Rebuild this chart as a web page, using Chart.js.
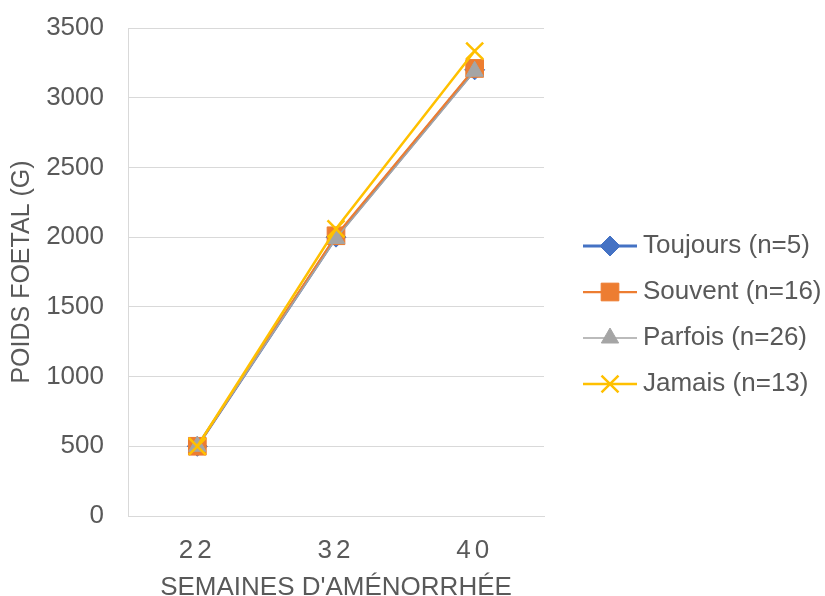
<!DOCTYPE html>
<html><head><meta charset="utf-8">
<script src="https://cdn.jsdelivr.net/npm/chart.js@4.4.1/dist/chart.umd.min.js"></script>
<style>html,body{margin:0;padding:0;background:#fff}#wrap{width:825px;height:596px}</style>
</head><body>
<div id="wrap"><canvas id="c" width="825" height="596"></canvas></div>
<script>
const categories = ['22', '32', '40'];
const seriesLabels = ['Toujours (n=5)', 'Souvent (n=16)', 'Parfois (n=26)', 'Jamais (n=13)'];
const toujours = [500, 2000, 3200];
const souvent = [500, 2010, 3210];
const parfois = [500, 1990, 3190];
const jamais = [500, 2060, 3335];
const yMin = 0, yMax = 3500, yStep = 500;
const xTitle = "SEMAINES D'AMÉNORRHÉE";
const yTitle = 'POIDS FOETAL (G)';

const FONT = '"Liberation Sans", Arial, sans-serif';
const TXT = '#595959';
const GRID = '#d9d9d9';

class SpacedCategoryScale extends Chart.CategoryScale {
  drawLabels(area) {
    const ctx = this.ctx;
    ctx.save();
    ctx.letterSpacing = '4px';
    super.drawLabels(area);
    ctx.restore();
  }
}
SpacedCategoryScale.id = 'spacedCategory';
SpacedCategoryScale.defaults = Chart.CategoryScale.defaults;
Chart.register(SpacedCategoryScale);

const sideLegend = {
  id: 'sideLegend',
  afterDraw(chart) {
    const ctx = chart.ctx;
    const x0 = 583, x1 = 637, tx = 643;
    const ys = [246, 292, 338, 384];
    chart.data.datasets.forEach((ds, i) => {
      const y = ys[i];
      ctx.save();
      ctx.strokeStyle = ds.borderColor;
      ctx.lineWidth = ds.borderWidth;
      ctx.beginPath(); ctx.moveTo(x0, y); ctx.lineTo(x1, y); ctx.stroke();
      ctx.fillStyle = ds.pointBackgroundColor;
      ctx.strokeStyle = ds.pointBorderColor;
      ctx.lineWidth = ds.pointBorderWidth;
      Chart.helpers.drawPoint(ctx, {pointStyle: ds.pointStyle, radius: ds.pointRadius, rotation: 0, borderWidth: ds.pointBorderWidth}, (x0 + x1) / 2, y);
      ctx.fillStyle = TXT;
      ctx.font = '26px ' + FONT;
      ctx.textBaseline = 'middle';
      ctx.textAlign = 'left';
      ctx.fillText(ds.label, tx, y);
      ctx.restore();
    });
  }
};

function mk(label, data, color, lw, style, r, pbw, order) {
  return {label, data, borderColor: color, backgroundColor: color, borderWidth: lw,
    pointStyle: style, pointRadius: r, pointHoverRadius: r, pointBackgroundColor: color,
    pointBorderColor: color, pointBorderWidth: pbw, tension: 0, fill: false, order};
}

new Chart(document.getElementById('c'), {
  type: 'line',
  data: {
    labels: categories,
    datasets: [
      mk(seriesLabels[0], toujours, '#4472C4', 3, 'rectRot', 10, 1, 4),
      mk(seriesLabels[1], souvent, '#ED7D31', 2.25, 'rect', 12.5, 1, 3),
      mk(seriesLabels[2], parfois, '#A5A5A5', 1.5, 'triangle', 10, 1, 2),
      mk(seriesLabels[3], jamais, '#FFC000', 2.5, 'crossRot', 12, 2.5, 1)
    ]
  },
  options: {
    responsive: false,
    animation: false,
    events: [],
    layout: {padding: {left: 6, right: 281, top: 28, bottom: 0}},
    plugins: {legend: {display: false}, tooltip: {enabled: false}},
    scales: {
      x: {
        type: 'spacedCategory',
        offset: true,
        grid: {display: false, offset: true},
        border: {display: true, color: GRID, width: 1},
        ticks: {color: TXT, font: {family: FONT, size: 26}, padding: 11, maxRotation: 0},
        title: {display: true, text: xTitle, color: TXT, font: {family: FONT, size: 26, lineHeight: 1}, padding: {top: 0, bottom: -5}},
        afterFit(s) { s.height = 80; s.paddingLeft = 0; s.paddingRight = 0; }
      },
      y: {
        min: yMin, max: yMax,
        grid: {color: GRID, lineWidth: 1, drawTicks: false},
        border: {display: true, color: GRID, width: 1},
        ticks: {stepSize: yStep, color: TXT, font: {family: FONT, size: 26}, padding: 24, callback: v => String(v)},
        title: {display: true, text: yTitle, color: TXT, font: {family: FONT, size: 25, lineHeight: 1.2}, padding: {top: 1, bottom: 0}},
        afterFit(s) { s.width = 122; s.paddingTop = 0; s.paddingBottom = 0; }
      }
    }
  },
  plugins: [sideLegend]
});
</script>
</body></html>
